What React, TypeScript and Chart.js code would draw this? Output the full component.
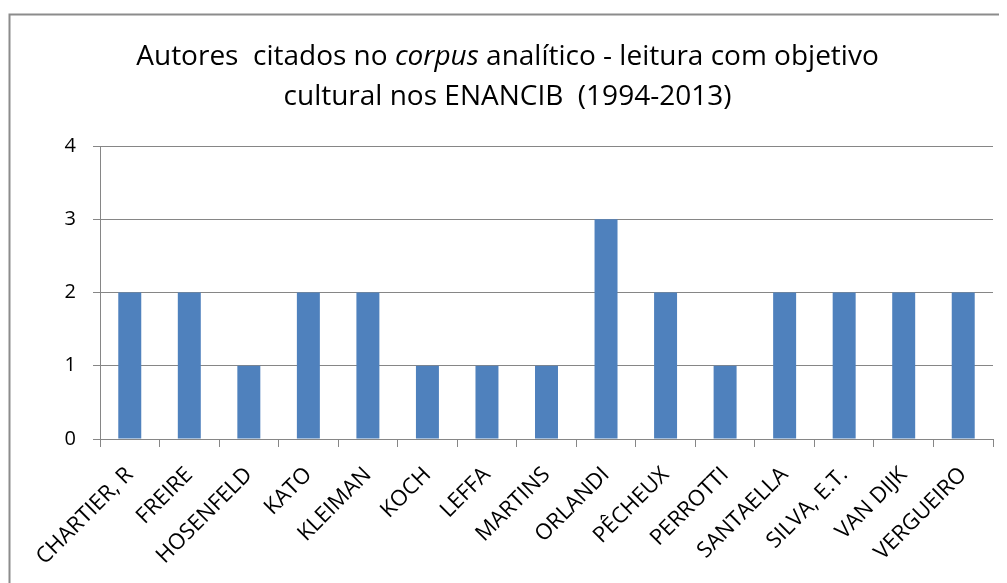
import React, { useEffect, useRef } from "react";
import { Chart, registerables } from "chart.js";

Chart.register(...registerables);

const categories = [
  "CHARTIER, R", "FREIRE", "HOSENFELD", "KATO", "KLEIMAN", "KOCH", "LEFFA",
  "MARTINS", "ORLANDI", "PÊCHEUX", "PERROTTI", "SANTAELLA", "SILVA, E.T.",
  "VAN DIJK", "VERGUEIRO",
];
const counts = [2, 2, 1, 2, 2, 1, 1, 1, 3, 2, 1, 2, 2, 2, 2];
const yTicks = [0, 1, 2, 3, 4];
const titleLine1 = [
  { text: "Autores  citados no ", italic: false },
  { text: "corpus", italic: true },
  { text: " analítico - leitura com objetivo", italic: false },
];
const titleLine2 = "cultural nos ENANCIB  (1994-2013)";

const FONT = "'Open Sans', 'DejaVu Sans', sans-serif";
const W = 999;
const H = 575;

const framePlugin = {
  id: "frameAndTitle",
  beforeDraw(chart: any) {
    const ctx = chart.ctx;
    ctx.save();
    ctx.fillStyle = "#ffffff";
    ctx.fillRect(0, 0, chart.width, chart.height);
    ctx.strokeStyle = "#8c8c8c";
    ctx.lineWidth = 2;
    ctx.beginPath();
    ctx.moveTo(1.5, chart.height);
    ctx.lineTo(1.5, 6.5);
    ctx.lineTo(chart.width, 6.5);
    ctx.stroke();
    ctx.restore();
  },
  afterDraw(chart: any) {
    const ctx = chart.ctx;
    ctx.save();
    ctx.fillStyle = "#000000";
    ctx.textBaseline = "middle";
    ctx.textAlign = "left";
    const size = 28;
    const cx = chart.width / 2;
    let total = 0;
    const widths = titleLine1.map((p) => {
      ctx.font = `${p.italic ? "italic " : ""}${size}px ${FONT}`;
      const w = ctx.measureText(p.text).width;
      total += w;
      return w;
    });
    let x = cx - total / 2;
    titleLine1.forEach((p, i) => {
      ctx.font = `${p.italic ? "italic " : ""}${size}px ${FONT}`;
      ctx.fillText(p.text, x, 49);
      x += widths[i];
    });
    ctx.font = `${size}px ${FONT}`;
    ctx.textAlign = "center";
    ctx.fillText(titleLine2, cx, 89);
    ctx.restore();
  },
};

export default function App() {
  const ref = useRef<HTMLCanvasElement>(null);
  useEffect(() => {
    if (!ref.current) return;
    const chart = new Chart(ref.current, {
      type: "bar",
      data: {
        labels: categories,
        datasets: [
          {
            data: counts,
            backgroundColor: "#4f81bd",
            borderWidth: 0,
            barPercentage: 0.386,
            categoryPercentage: 1,
          },
        ],
      },
      plugins: [framePlugin],
      options: {
        animation: false,
        responsive: false,
        maintainAspectRatio: false,
        layout: { padding: { left: 0, top: 138, right: 14, bottom: 0 } },
        plugins: {
          legend: { display: false },
          title: { display: false },
          tooltip: { enabled: false },
        },
        scales: {
          x: {
            afterFit(scale: any) {
              scale.height = 144;
            },
            grid: {
              offset: true,
              drawOnChartArea: false,
              drawTicks: true,
              tickLength: 8,
              color: "#868686",
            },
            border: { color: "#868686", width: 1 },
            ticks: {
              minRotation: 45,
              maxRotation: 45,
              autoSkip: false,
              padding: 15,
              color: "#000000",
              font: { family: FONT, size: 22 },
            },
          },
          y: {
            min: 0,
            max: 4,
            afterFit(scale: any) {
              scale.width = 92;
            },
            afterBuildTicks(scale: any) {
              scale.ticks = yTicks.map((v) => ({ value: v }));
            },
            grid: {
              color: "#868686",
              tickLength: 7,
            },
            border: { color: "#868686", width: 1 },
            ticks: {
              padding: 17,
              color: "#000000",
              font: { family: FONT, size: 20 },
            },
          },
        },
      },
    });
    return () => chart.destroy();
  }, []);
  return (
    <div style={{ width: W, height: H }}>
      <canvas ref={ref} width={W} height={H} style={{ display: "block", width: W, height: H }} />
    </div>
  );
}
